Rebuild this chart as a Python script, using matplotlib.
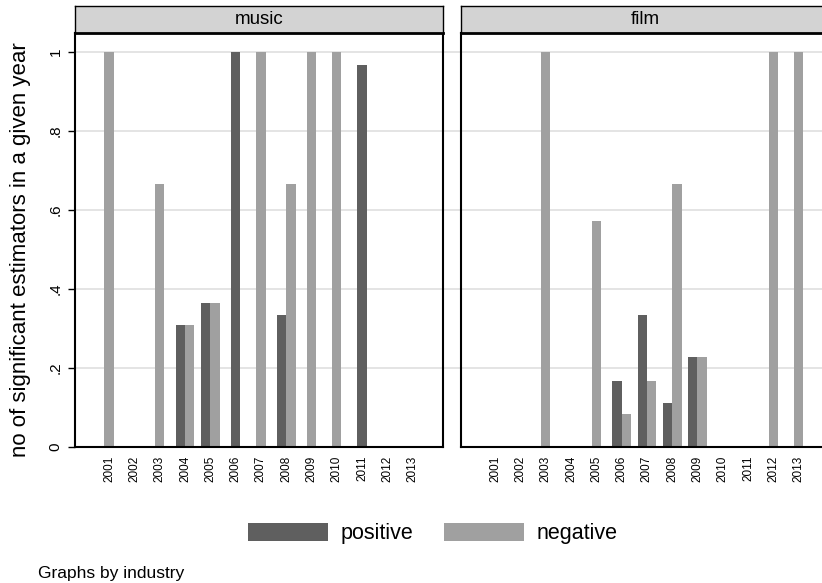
import numpy as np
import matplotlib.pyplot as plt
from matplotlib.patches import Patch

plt.rcParams['font.family'] = ['Liberation Sans', 'DejaVu Sans']

nan = np.nan
years = [str(y) for y in range(2001, 2014)]

# share of significant estimators per year, by sign (nan = no bar)
music_pos = [nan, nan, nan, .308, .364, 1.0, nan, .333, nan, nan, .967, nan, nan]
music_neg = [1.0, nan, .667, .308, .364, nan, 1.0, .667, 1.0, 1.0, nan, nan, nan]
film_pos = [nan, nan, nan, nan, nan, .167, .333, .111, .227, nan, nan, nan, nan]
film_neg = [nan, nan, 1.0, nan, .571, .083, .167, .667, .227, nan, nan, 1.0, 1.0]

panels = [('music', music_pos, music_neg), ('film', film_pos, film_neg)]

yticks = [0, .2, .4, .6, .8, 1]
yticklabels = ['0', '.2', '.4', '.6', '.8', '1']

dark = '#5f5f5f'
light = '#a0a0a0'
grid_c = '#e2e2e2'
bw = 0.37

W, H = 822, 583
fig = plt.figure(figsize=(W / 100, H / 100), dpi=100)


def box(x0, y0, x1, y1):
    # pixel rectangle (top-left origin) -> figure fraction
    return [x0 / W, 1 - y1 / H, (x1 - x0) / W, (y1 - y0) / H]


lefts = [75, 461]
pw = 368
x = np.arange(len(years))

for k, (name, pos, neg) in enumerate(panels):
    x0 = lefts[k]
    ax = fig.add_axes(box(x0, 33, x0 + pw, 447))
    pos = np.array(pos)
    neg = np.array(neg)
    hp = ~np.isnan(pos)
    hn = ~np.isnan(neg)
    both = hp & hn
    shift = np.where(both, bw / 2, 0.0)
    ax.bar((x - shift)[hp], pos[hp], width=bw, color=dark, zorder=2)
    ax.bar((x + shift)[hn], neg[hn], width=bw, color=light, zorder=2)

    ext = 1.05 if k == 0 else 1.0
    for yv in yticks[1:]:
        ax.axhline(yv, xmin=0, xmax=ext, color=grid_c, lw=1.3,
                   zorder=0.5, clip_on=False)

    ax.set_xlim(-1.35, 13.2)
    ax.set_ylim(0, 1.048)
    ax.set_xticks(x, years, rotation=90, fontsize=8.5)
    ax.tick_params(axis='x', length=0, pad=6)
    if k == 0:
        ax.set_yticks(yticks, yticklabels)
        ax.tick_params(axis='y', length=5, width=1, pad=4,
                       labelsize=11, labelrotation=90)
        plt.setp(ax.get_yticklabels(), va='center')
    else:
        ax.set_yticks([])
    for sp in ax.spines.values():
        sp.set_linewidth(1.5)
        sp.set_color('black')

    # strip with panel title
    hax = fig.add_axes(box(x0, 6, x0 + pw, 33))
    hax.set_facecolor('#d3d3d3')
    hax.set_xticks([])
    hax.set_yticks([])
    for sp in hax.spines.values():
        sp.set_linewidth(1.0)
    hax.spines['bottom'].set_linewidth(2.0)
    hax.text(0.5, 0.5, name, ha='center', va='center', fontsize=13.5,
             transform=hax.transAxes)

fig.text(21 / W, 1 - 250 / H, 'no of significant estimators in a given year',
         rotation=90, ha='center', va='center', fontsize=16)

handles = [Patch(facecolor=dark, label='positive'),
           Patch(facecolor=light, label='negative')]
fig.legend(handles=handles, loc='center', bbox_to_anchor=(433 / W, 1 - 533.5 / H),
           ncol=2, frameon=False, fontsize=15.5, handlelength=3.7,
           handleheight=0.95, handletextpad=0.6, columnspacing=1.4)

fig.text(38 / W, 5 / H, 'Graphs by industry', fontsize=12.5, va='baseline')

fig.savefig('out.png', dpi=100)
